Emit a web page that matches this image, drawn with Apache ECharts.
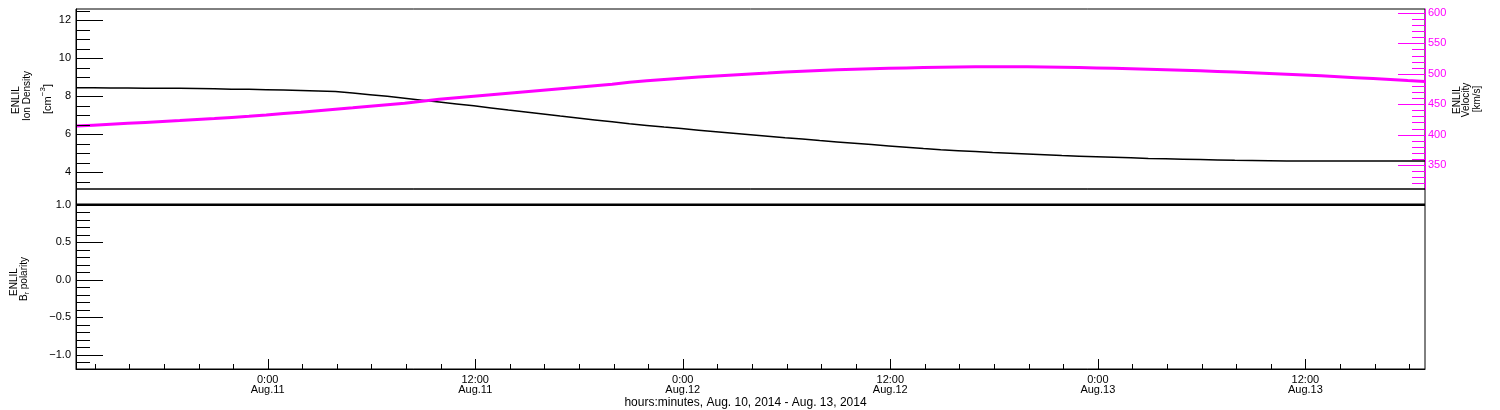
<!DOCTYPE html>
<html>
<head>
<meta charset="utf-8">
<script src="https://cdn.jsdelivr.net/npm/echarts@6/dist/echarts.min.js"></script>
<style>
  html, body { margin: 0; padding: 0; background: #fff; }
  #chart { width: 1500px; height: 410px; }
</style>
</head>
<body>
<div id="chart"></div>
<script>
// time range of the plot (UTC)
const startTime = Date.UTC(2014, 7, 10, 12, 55);
const endTime = Date.UTC(2014, 7, 13, 18, 55);
const HOUR = 3600 * 1000;

// hourly samples starting at startTime
const density = [
  8.45, 8.45, 8.44, 8.44, 8.43, 8.43, 8.42, 8.41, 8.40, 8.38,
  8.37, 8.35, 8.33, 8.31, 8.28, 8.25, 8.18, 8.09, 8.00, 7.90,
  7.80, 7.70, 7.60, 7.50, 7.39, 7.28, 7.18, 7.07, 6.96, 6.86,
  6.76, 6.66, 6.56, 6.47, 6.38, 6.30, 6.22, 6.14, 6.06, 5.98,
  5.90, 5.82, 5.75, 5.67, 5.60, 5.53, 5.46, 5.39, 5.32, 5.25,
  5.19, 5.14, 5.09, 5.04, 5.00, 4.96, 4.92, 4.88, 4.85, 4.82,
  4.79, 4.76, 4.73, 4.71, 4.69, 4.67, 4.65, 4.63, 4.62, 4.61,
  4.60, 4.60, 4.60, 4.60, 4.60, 4.60, 4.60, 4.60, 4.60
];
const velocity = [
  414, 415.5, 417, 418.5, 420, 421.5, 423, 424.7, 426.4, 428.2,
  430, 432.2, 434.5, 436.8, 439.2, 441.6, 444, 446.5, 449, 451.5,
  455, 458, 460.5, 463, 465.5, 468, 470.5, 473, 475.5, 478,
  480.5, 483, 486, 488.5, 490.7, 492.8, 494.7, 496.5, 498.2, 499.8,
  501.3, 503, 504.3, 505.5, 506.6, 507.5, 508.3, 509, 509.7, 510.3,
  510.8, 511.2, 511.5, 511.6, 511.6, 511.4, 511.1, 510.7, 510.2, 509.6,
  509, 508.3, 507.5, 506.7, 505.8, 504.9, 503.9, 502.9, 501.8, 500.6,
  499.3, 498, 496.6, 495.2, 493.7, 492.2, 490.6, 489, 487.5
];
const polarity = [
  1, 1, 1, 1, 1, 1, 1, 1, 1, 1,
  1, 1, 1, 1, 1, 1, 1, 1, 1, 1,
  1, 1, 1, 1, 1, 1, 1, 1, 1, 1,
  1, 1, 1, 1, 1, 1, 1, 1, 1, 1,
  1, 1, 1, 1, 1, 1, 1, 1, 1, 1,
  1, 1, 1, 1, 1, 1, 1, 1, 1, 1,
  1, 1, 1, 1, 1, 1, 1, 1, 1, 1,
  1, 1, 1, 1, 1, 1, 1, 1, 1
];

// axis ranges and ticks
const densityRange = [3.12, 12.6];
const velocityRange = [310.5, 606.6];
const polarityRange = [-1.19, 1.21];
const densityTicks = [4, 6, 8, 10, 12];
const velocityTicks = [350, 400, 450, 500, 550, 600];
const polarityTicks = [-1, -0.5, 0, 0.5, 1];
const timeTicks = ['2014-08-11T00:00:00Z', '2014-08-11T12:00:00Z', '2014-08-12T00:00:00Z',
  '2014-08-12T12:00:00Z', '2014-08-13T00:00:00Z', '2014-08-13T12:00:00Z'];

const range = (a, b, step) => {
  const out = [];
  for (let v = a; v <= b + 1e-9; v += step) out.push(Math.round(v * 1000) / 1000);
  return out;
};
const densityMinor = range(3.5, 12.5, 0.5);
const velocityMinor = range(320, 600, 10);
const polarityMinor = range(-1.1, 1.0, 0.1);
const timeMajor = timeTicks.map(s => Date.parse(s));
const timeMinor = range(Date.UTC(2014, 7, 10, 14), endTime, 2 * HOUR);

const times = density.map((_, i) => startTime + i * HOUR);
const FONT = '"Liberation Sans", Arial, sans-serif';
const MAGENTA = '#ff00ff';

const fmtTime = v => {
  const d = new Date(v);
  return d.getUTCHours() + ':00\nAug.' + d.getUTCDate();
};

// axis: line + labels only, tick marks are drawn by the custom series below
const yAxisOf = (grid, r, pos, ticks, color, margin, fmt) => ({
  type: 'value', gridIndex: grid, min: r[0], max: r[1], position: pos, z: 5,
  axisLine: { show: true, onZero: false, lineStyle: { color, width: 1 } },
  axisTick: { show: false },
  axisLabel: { customValues: ticks, color, fontFamily: FONT, fontSize: 11, margin, formatter: fmt },
  splitLine: { show: false }
});

// inward tick marks on a y axis, placed with the axis scale
const yTicks = (xIdx, yIdx, values, len, side, color) => ({
  type: 'custom', xAxisIndex: xIdx, yAxisIndex: yIdx, silent: true, clip: false, z: 6,
  data: values.map(v => [side === 'left' ? startTime : endTime, v]),
  renderItem: (params, api) => {
    const p = api.coord([api.value(0), api.value(1)]);
    const y = Math.round(p[1]) + 0.5;
    const x2 = side === 'left' ? p[0] + len : p[0] - len;
    return { type: 'line', shape: { x1: p[0], y1: y, x2, y2: y }, style: { stroke: color, lineWidth: 1 } };
  }
});
// upward tick marks on the bottom time axis
const xTicks = (xIdx, yIdx, values, len, yMin) => ({
  type: 'custom', xAxisIndex: xIdx, yAxisIndex: yIdx, silent: true, clip: false, z: 6,
  data: values.map(t => [t, yMin]),
  renderItem: (params, api) => {
    const p = api.coord([api.value(0), api.value(1)]);
    const x = Math.round(p[0]) + 0.5;
    return { type: 'line', shape: { x1: x, y1: p[1], x2: x, y2: p[1] - len }, style: { stroke: '#000', lineWidth: 1 } };
  }
});

const chart = echarts.init(document.getElementById('chart'));
chart.setOption({
  animation: false,
  backgroundColor: '#fff',
  textStyle: { fontFamily: FONT },
  grid: [
    { left: 76, right: 75, top: 9, height: 180, show: true, borderColor: '#000', borderWidth: 1 },
    { left: 76, right: 75, top: 189, height: 180, show: true, borderColor: '#000', borderWidth: 1 }
  ],
  xAxis: [
    { type: 'value', gridIndex: 0, min: startTime, max: endTime, show: false },
    {
      type: 'value', gridIndex: 1, min: startTime, max: endTime, z: 5,
      axisLine: { onZero: false, lineStyle: { color: '#000' } },
      axisTick: { show: false },
      axisLabel: {
        customValues: timeMajor, formatter: fmtTime, color: '#000',
        fontFamily: FONT, fontSize: 11, lineHeight: 10, margin: 6
      },
      splitLine: { show: false },
      name: 'hours:minutes, Aug. 10, 2014 - Aug. 13, 2014',
      nameLocation: 'middle', nameGap: 26,
      nameTextStyle: { color: '#000', fontFamily: FONT, fontSize: 12, padding: [0, 10, 0, 0] }
    }
  ],
  yAxis: [
    yAxisOf(0, densityRange, 'left', densityTicks, '#000', 5),
    yAxisOf(0, velocityRange, 'right', velocityTicks, MAGENTA, 3),
    yAxisOf(1, polarityRange, 'left', polarityTicks, '#000', 5, v => v.toFixed(1).replace('-', '\u2212'))
  ],
  series: [
    {
      type: 'line', xAxisIndex: 0, yAxisIndex: 0, showSymbol: false,
      data: times.map((t, i) => [t, density[i]]),
      lineStyle: { color: '#000', width: 1.5 }, itemStyle: { color: '#000' }
    },
    {
      type: 'line', xAxisIndex: 0, yAxisIndex: 1, showSymbol: false,
      data: times.map((t, i) => [t, velocity[i]]),
      lineStyle: { color: MAGENTA, width: 3 }, itemStyle: { color: MAGENTA }
    },
    {
      type: 'line', xAxisIndex: 1, yAxisIndex: 2, showSymbol: false,
      data: times.map((t, i) => [t, polarity[i]]),
      lineStyle: { color: '#000', width: 2.5 }, itemStyle: { color: '#000' }
    },
    yTicks(0, 0, densityTicks, 27, 'left', '#000'),
    yTicks(0, 0, densityMinor, 14, 'left', '#000'),
    yTicks(0, 1, velocityTicks, 27, 'right', MAGENTA),
    yTicks(0, 1, velocityMinor, 13, 'right', MAGENTA),
    yTicks(1, 2, polarityTicks, 27, 'left', '#000'),
    yTicks(1, 2, polarityMinor, 14, 'left', '#000'),
    xTicks(1, 2, timeMajor, 10, polarityRange[0]),
    xTicks(1, 2, timeMinor, 5, polarityRange[0])
  ],
  graphic: [
    // left title, top panel
    { type: 'text', x: 16, y: 100, rotation: Math.PI / 2,
      style: { text: 'ENLIL', fill: '#000', font: '10px ' + FONT, align: 'center', verticalAlign: 'middle' } },
    { type: 'text', x: 27, y: 96, rotation: Math.PI / 2,
      style: { text: 'Ion Density', fill: '#000', font: '10px ' + FONT, align: 'center', verticalAlign: 'middle' } },
    { type: 'text', x: 46, y: 99, rotation: Math.PI / 2,
      style: {
        text: '{n|[cm}{sup|\u22123}{n|]}', fill: '#000', font: '10px ' + FONT, align: 'center', verticalAlign: 'middle',
        rich: {
          n: { fontSize: 11, lineHeight: 15, verticalAlign: 'bottom', fontFamily: FONT },
          sup: { fontSize: 8, lineHeight: 8, verticalAlign: 'top', fontFamily: FONT }
        }
      } },
    // right title, top panel
    { type: 'text', x: 1457, y: 100, rotation: Math.PI / 2,
      style: { text: 'ENLIL', fill: '#000', font: '10px ' + FONT, align: 'center', verticalAlign: 'middle' } },
    { type: 'text', x: 1466, y: 100, rotation: Math.PI / 2,
      style: { text: 'Velocity', fill: '#000', font: '10px ' + FONT, align: 'center', verticalAlign: 'middle' } },
    { type: 'text', x: 1477, y: 99, rotation: Math.PI / 2,
      style: { text: '[km/s]', fill: '#000', font: '10px ' + FONT, align: 'center', verticalAlign: 'middle' } },
    // left title, bottom panel
    { type: 'text', x: 14, y: 282, rotation: Math.PI / 2,
      style: { text: 'ENLIL', fill: '#000', font: '10px ' + FONT, align: 'center', verticalAlign: 'middle' } },
    { type: 'text', x: 25, y: 279, rotation: Math.PI / 2,
      style: {
        text: '{n|B}{sub|r}{n| polarity}', fill: '#000', font: '10px ' + FONT, align: 'center', verticalAlign: 'middle',
        rich: {
          n: { fontSize: 10, lineHeight: 12, verticalAlign: 'top', fontFamily: FONT },
          sub: { fontSize: 7, lineHeight: 7, verticalAlign: 'bottom', fontFamily: FONT }
        }
      } }
  ]
});
</script>
</body>
</html>
